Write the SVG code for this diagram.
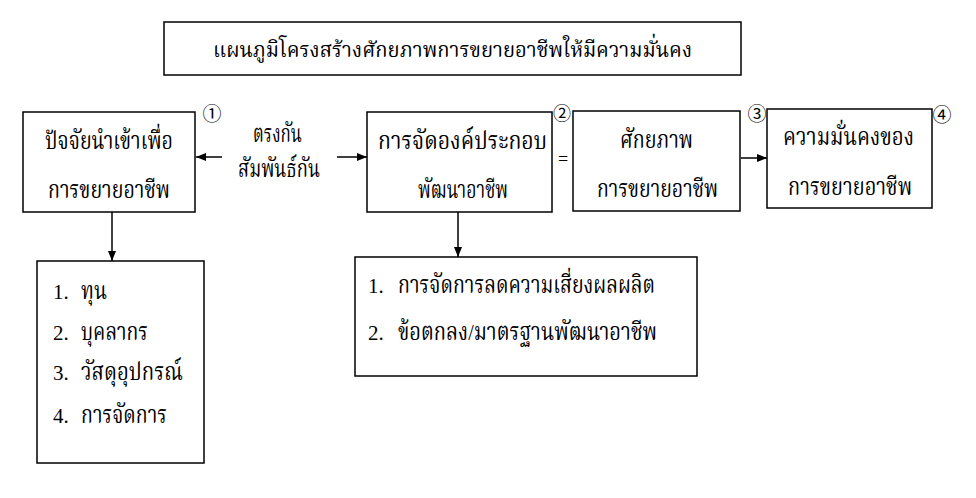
<svg xmlns="http://www.w3.org/2000/svg" width="976" height="498" viewBox="0 0 976 498">
<defs>
<marker id="ah" markerWidth="10" markerHeight="8" refX="10" refY="4" orient="auto" markerUnits="userSpaceOnUse">
<path d="M0,0 L10,4 L0,8 Z" fill="#000"/>
</marker>
<style>
.box{fill:#fff;stroke:#000;stroke-width:1.5}
.t{font-family:"Liberation Serif","Noto Serif Thai","Noto Sans Thai",serif;font-size:24px;fill:#000}
.num{font-family:"Liberation Serif",serif;font-size:21px;fill:#000}
.circ{font-family:"Noto Sans CJK JP","DejaVu Sans",sans-serif;font-size:19px;fill:#000;text-anchor:middle}
.ln{stroke:#000;stroke-width:1.5;fill:none}
</style>
</defs>
<rect width="976" height="498" fill="#fff"/>

<g id="title">
<rect class="box" x="164" y="22" width="577" height="53"/>
<text class="t" x="213" y="57" textLength="479" lengthAdjust="spacingAndGlyphs" style="font-size:22px">แผนภูมิโครงสร้างศักยภาพการขยายอาชีพให้มีความมั่นคง</text>
</g>

<g id="node1">
<rect class="box" x="23" y="112" width="172" height="100"/>
<text class="t" x="45" y="149" textLength="128" lengthAdjust="spacingAndGlyphs">ปัจจัยนำเข้าเพื่อ</text>
<text class="t" x="48" y="198" textLength="122" lengthAdjust="spacingAndGlyphs">การขยายอาชีพ</text>
<text class="circ" x="212" y="121">①</text>
</g>

<g id="label-relation">
<text class="t" x="253" y="142" textLength="49" lengthAdjust="spacingAndGlyphs">ตรงกัน</text>
<text class="t" x="238" y="177" textLength="82" lengthAdjust="spacingAndGlyphs">สัมพันธ์กัน</text>
</g>

<g id="node2">
<rect class="box" x="367" y="112" width="185" height="100"/>
<text class="t" x="378" y="149" textLength="169" lengthAdjust="spacingAndGlyphs">การจัดองค์ประกอบ</text>
<text class="t" x="418" y="198" textLength="90" lengthAdjust="spacingAndGlyphs">พัฒนาอาชีพ</text>
<text class="circ" x="562" y="120" style="font-size:18px">②</text>
<text class="num" x="563" y="165" text-anchor="middle" style="font-size:18px">=</text>
</g>

<g id="node3">
<rect class="box" x="573" y="111" width="167" height="100"/>
<text class="t" x="620" y="148" textLength="73" lengthAdjust="spacingAndGlyphs">ศักยภาพ</text>
<text class="t" x="597" y="197" textLength="121" lengthAdjust="spacingAndGlyphs">การขยายอาชีพ</text>
<text class="circ" x="757" y="121">③</text>
</g>

<g id="node4">
<rect class="box" x="767" y="109" width="165" height="99"/>
<text class="t" x="783" y="145" textLength="131" lengthAdjust="spacingAndGlyphs">ความมั่นคงของ</text>
<text class="t" x="788" y="195" textLength="124" lengthAdjust="spacingAndGlyphs">การขยายอาชีพ</text>
<text class="circ" x="942" y="122">④</text>
</g>

<g id="node5">
<rect class="box" x="37" y="261" width="167" height="202"/>
<text class="num" x="53" y="299">1.</text>
<text class="t" x="81" y="299" textLength="26" lengthAdjust="spacingAndGlyphs">ทุน</text>
<text class="num" x="53" y="340">2.</text>
<text class="t" x="81" y="340" textLength="67" lengthAdjust="spacingAndGlyphs">บุคลากร</text>
<text class="num" x="53" y="380">3.</text>
<text class="t" x="81" y="380" textLength="102" lengthAdjust="spacingAndGlyphs">วัสดุอุปกรณ์</text>
<text class="num" x="53" y="423">4.</text>
<text class="t" x="81" y="423" textLength="86" lengthAdjust="spacingAndGlyphs">การจัดการ</text>
</g>

<g id="node6">
<rect class="box" x="355" y="257" width="342" height="119"/>
<text class="num" x="368" y="293">1.</text>
<text class="t" x="398" y="293" textLength="257" lengthAdjust="spacingAndGlyphs">การจัดการลดความเสี่ยงผลผลิต</text>
<text class="num" x="368" y="340">2.</text>
<text class="t" x="398" y="340" textLength="259" lengthAdjust="spacingAndGlyphs">ข้อตกลง/มาตรฐานพัฒนาอาชีพ</text>
</g>

<g id="connectors">
<line class="ln" x1="222" y1="157" x2="196" y2="157" marker-end="url(#ah)"/>
<line class="ln" x1="337" y1="157" x2="367" y2="157" marker-end="url(#ah)"/>
<line class="ln" x1="741" y1="158" x2="767" y2="158" marker-end="url(#ah)"/>
<line class="ln" x1="112" y1="212" x2="112" y2="261" marker-end="url(#ah)"/>
<line class="ln" x1="458" y1="212" x2="458" y2="257" marker-end="url(#ah)"/>
</g>
</svg>
